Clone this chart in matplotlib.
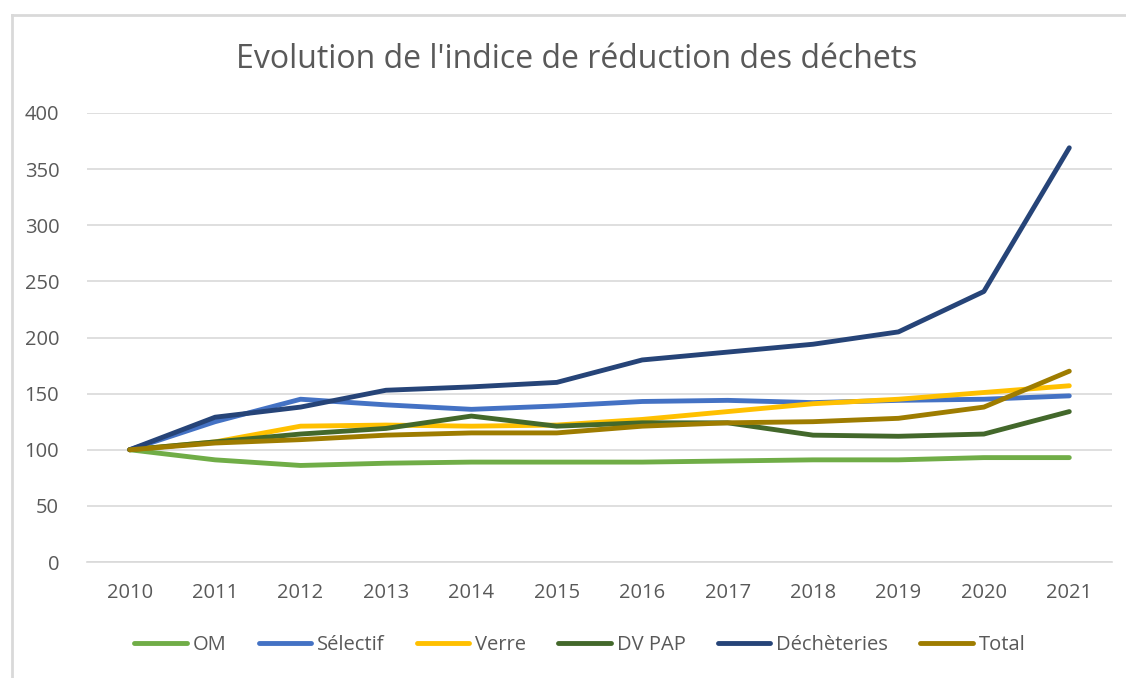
import matplotlib
matplotlib.use("Agg")
import matplotlib.pyplot as plt
from matplotlib.lines import Line2D

years = ["2010", "2011", "2012", "2013", "2014", "2015", "2016", "2017", "2018", "2019", "2020", "2021"]
om = [100, 91, 86, 88, 89, 89, 89, 90, 91, 91, 93, 93]
selectif = [100, 125, 145, 140, 136, 139, 143, 144, 142, 144, 145, 148]
verre = [100, 107, 121, 122, 121, 122, 127, 134, 141, 145, 151, 157]
dv_pap = [100, 107, 114, 119, 130, 121, 124, 124, 113, 112, 114, 134]
decheteries = [100, 129, 138, 153, 156, 160, 180, 187, 194, 205, 241, 369]
total = [100, 106, 109, 113, 115, 115, 121, 124, 125, 128, 138, 170]

series = [
    ("OM", om, "#70AD47"),
    ("Sélectif", selectif, "#4472C4"),
    ("Verre", verre, "#FFC000"),
    ("DV PAP", dv_pap, "#43682B"),
    ("Déchèteries", decheteries, "#264478"),
    ("Total", total, "#9E7C00"),
]

plt.rcParams['font.family'] = ['Open Sans', 'DejaVu Sans']
W, H = 1126, 678
fig = plt.figure(figsize=(W / 100, H / 100), dpi=100)
fig.patch.set_facecolor("white")

# chart border (left and top visible)
fig.add_artist(Line2D([11.5 / W, 11.5 / W], [0, 1 - 15 / H], transform=fig.transFigure,
                      color="#D9D9D9", lw=2))
fig.add_artist(Line2D([11.5 / W, 1], [1 - 15 / H, 1 - 15 / H], transform=fig.transFigure,
                      color="#D9D9D9", lw=2))

left, right = 87 / W, 1112 / W
bottom, top = 1 - 562 / H, 1 - 113 / H
ax = fig.add_axes([left, bottom, right - left, top - bottom])

x = list(range(len(years)))
for name, vals, col in series:
    ax.plot(x, vals, color=col, lw=3.5, label=name, solid_capstyle="round", solid_joinstyle="round")

ax.set_xlim(-0.5, len(years) - 0.5)
ax.set_ylim(0, 400)
ax.set_yticks(range(0, 401, 50))
ax.set_xticks(x)
ax.set_xticklabels(years)
ax.yaxis.grid(True, color="#D9D9D9", lw=1.2)
ax.set_axisbelow(True)
for s in ["top", "right", "left"]:
    ax.spines[s].set_visible(False)
ax.spines["bottom"].set_color("#D9D9D9")
ax.spines["bottom"].set_linewidth(1.2)
ax.tick_params(axis="both", length=0, labelsize=14.5, colors="#595959")
ax.tick_params(axis="y", pad=20)
ax.tick_params(axis="x", pad=15)

fig.text(577 / W, 1 - 59 / H, "Evolution de l'indice de réduction des déchets",
         ha="center", va="center", fontsize=23, color="#595959")

handles, labels = ax.get_legend_handles_labels()
leg = fig.legend(handles, labels, loc="center", bbox_to_anchor=(580 / W, 1 - 645 / H),
                 ncol=6, frameon=False, fontsize=14.5, handlelength=2.6, handletextpad=0.3,
                 columnspacing=1.6, labelcolor="#595959")

fig.savefig("out.png", dpi=100)
